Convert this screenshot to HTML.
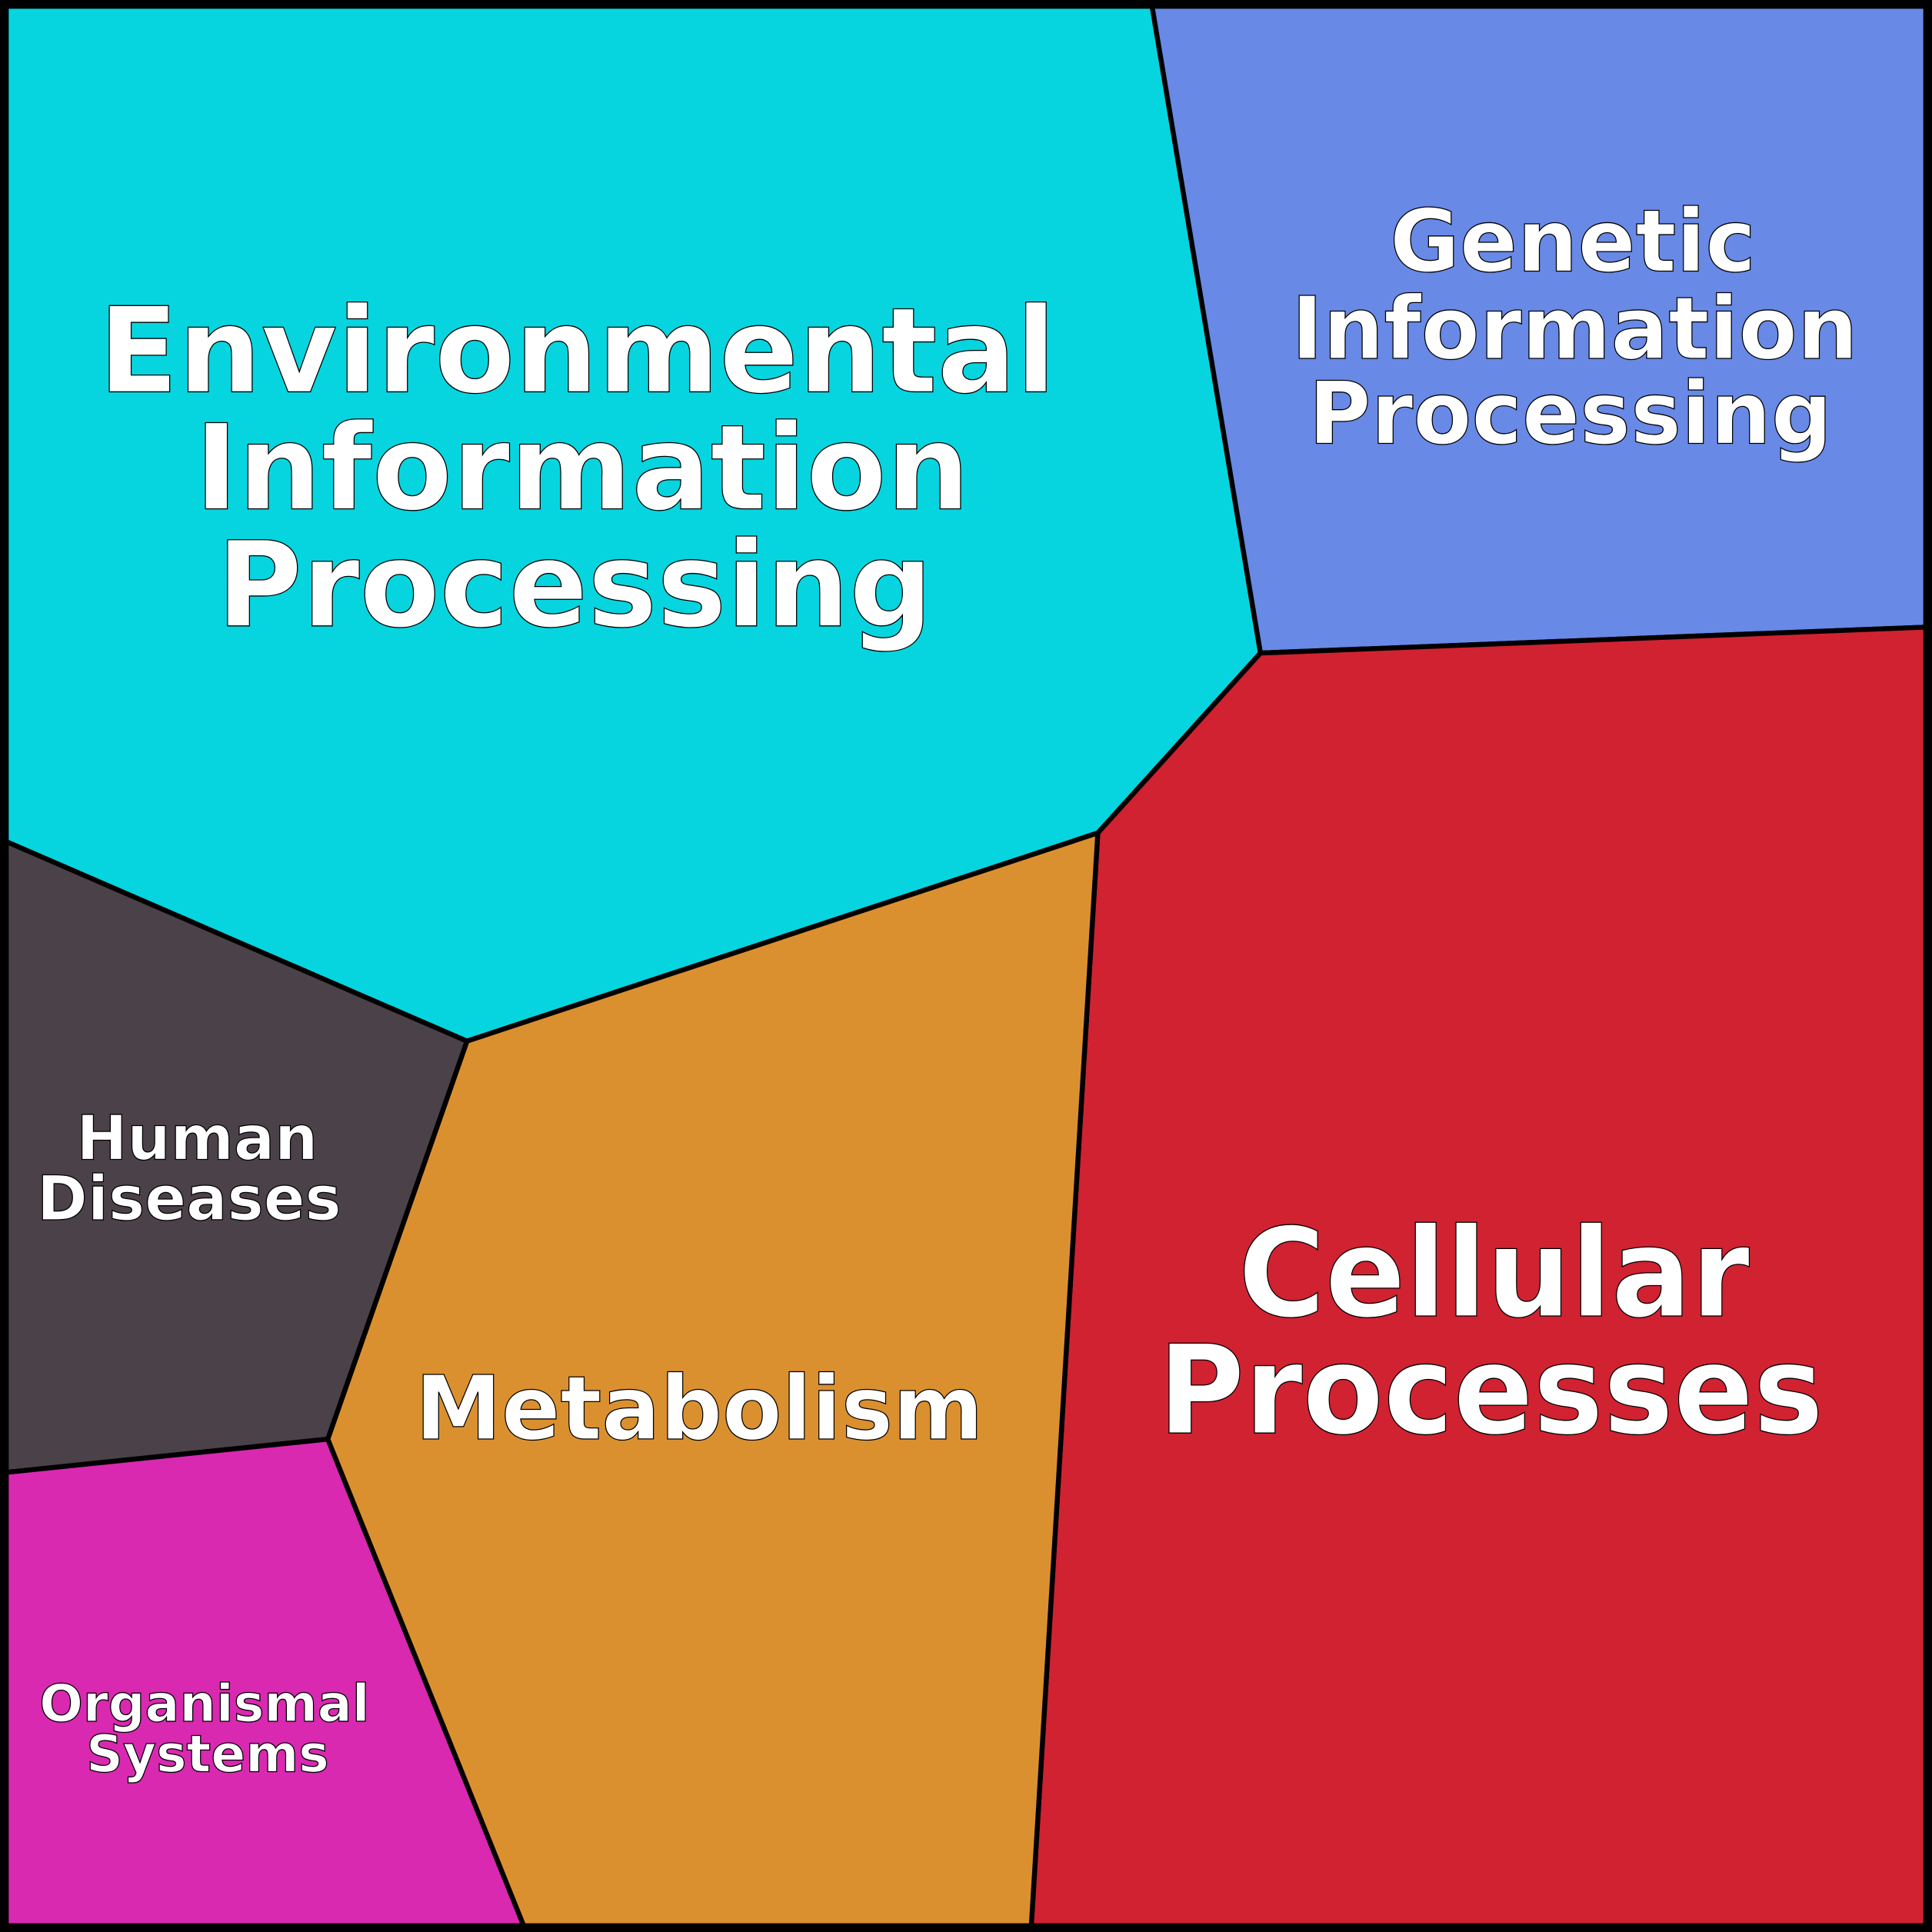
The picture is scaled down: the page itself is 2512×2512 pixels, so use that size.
<!DOCTYPE html>
<html><head><meta charset="utf-8"><style>html,body{margin:0;padding:0;background:#fff}svg{display:block}</style></head><body>
<svg width="2512" height="2512" viewBox="0 0 1568 1568" xmlns="http://www.w3.org/2000/svg">
<g stroke="#000" stroke-width="4" stroke-linejoin="round">
<polygon points="5,5 935,5 1023,530 891,676 379,845 5,683" fill="#06D5DF"/>
<polygon points="935,5 1563,5 1563,509 1023,530" fill="#6889E5"/>
<polygon points="1023,530 1563,509 1563,1563 837,1563 891,676" fill="#D02231"/>
<polygon points="891,676 837,1563 425,1563 266,1168 379,845" fill="#DB9030"/>
<polygon points="5,683 379,845 266,1168 5,1195" fill="#4B4148"/>
<polygon points="5,1195 266,1168 425,1563 5,1563" fill="#D829B0"/>
</g>
<rect x="3.5" y="3.5" width="1561" height="1561" fill="none" stroke="#000" stroke-width="7"/>
<g font-family="'DejaVu Sans','Liberation Sans',sans-serif" font-weight="bold" fill="#fff" stroke="#000" stroke-width="0.8" lengthAdjust="spacingAndGlyphs">
<text x="80" y="318" font-size="96" textLength="777" lengthAdjust="spacingAndGlyphs">Environmental</text>
<text x="158" y="413" font-size="96" textLength="629" lengthAdjust="spacingAndGlyphs">Information</text>
<text x="176" y="508" font-size="96" textLength="581" lengthAdjust="spacingAndGlyphs">Processing</text>
<text x="1128" y="220" font-size="70" textLength="297" lengthAdjust="spacingAndGlyphs">Genetic</text>
<text x="1048" y="291" font-size="70" textLength="460" lengthAdjust="spacingAndGlyphs">Information</text>
<text x="1062" y="360" font-size="70" textLength="425" lengthAdjust="spacingAndGlyphs">Processing</text>
<text x="1005" y="1068" font-size="100" textLength="415" lengthAdjust="spacingAndGlyphs">Cellular</text>
<text x="940" y="1163" font-size="100" textLength="540" lengthAdjust="spacingAndGlyphs">Processes</text>
<text x="337" y="1168" font-size="72" textLength="461" lengthAdjust="spacingAndGlyphs">Metabolism</text>
<text x="62" y="941" font-size="50" textLength="196" lengthAdjust="spacingAndGlyphs">Human</text>
<text x="30" y="990" font-size="50" textLength="247" lengthAdjust="spacingAndGlyphs">Diseases</text>
<text x="32" y="1397" font-size="42" textLength="268" lengthAdjust="spacingAndGlyphs">Organismal</text>
<text x="70" y="1438" font-size="42" textLength="197" lengthAdjust="spacingAndGlyphs">Systems</text>
</g>
</svg>
</body></html>
